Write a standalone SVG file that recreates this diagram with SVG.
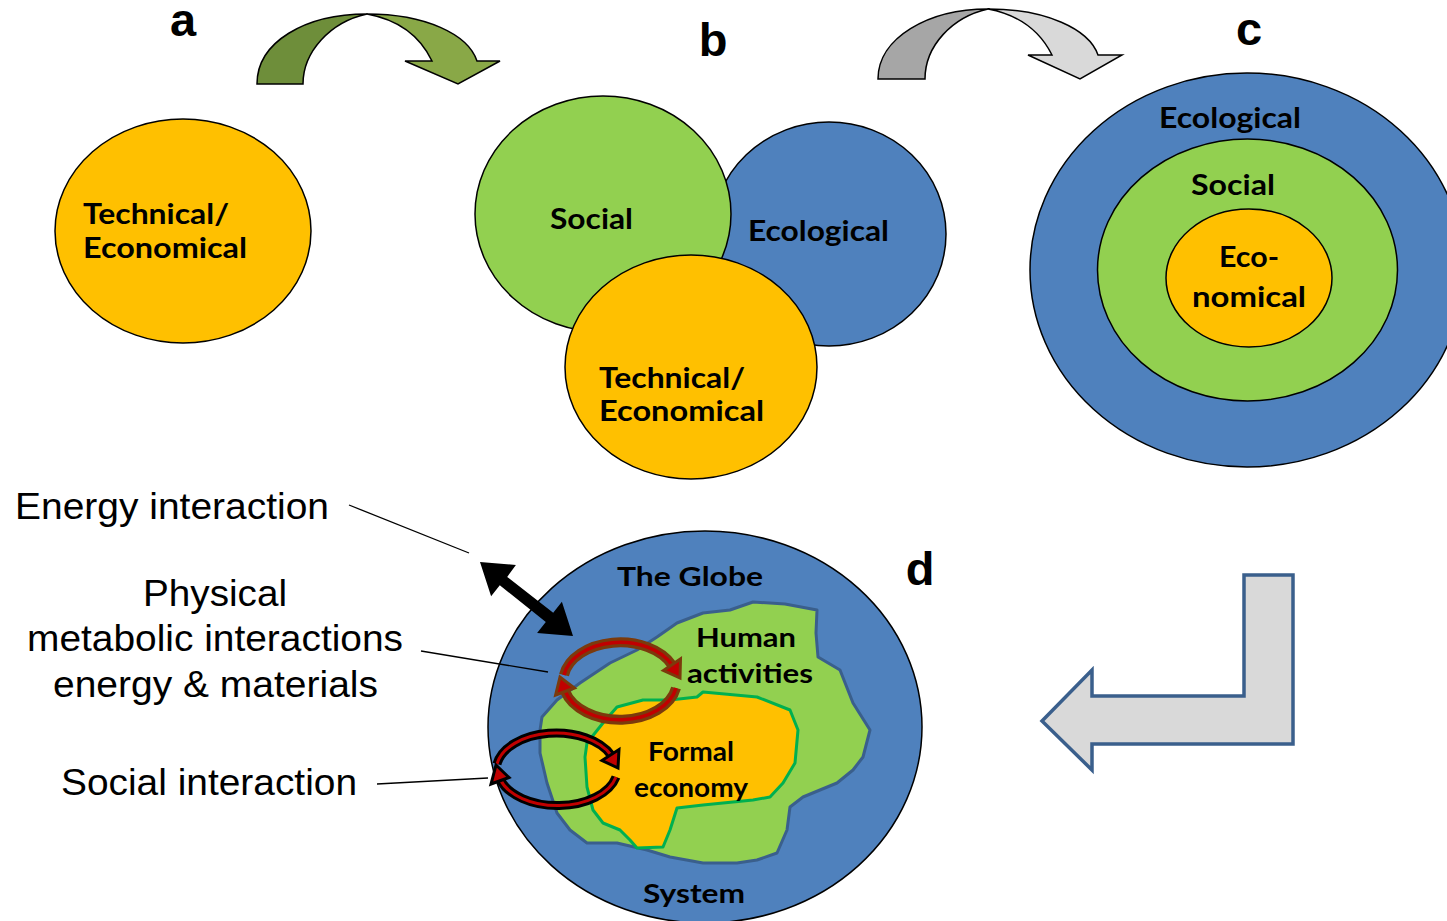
<svg xmlns="http://www.w3.org/2000/svg" width="1447" height="921" viewBox="0 0 1447 921">
<style>
.lbl{font-family:"Liberation Sans",Arial,sans-serif;font-weight:bold;font-size:47px;fill:#000}
.b{font-family:Lato,"Open Sans",sans-serif;font-weight:bold;font-size:29px;fill:#000}
.bd{font-family:Lato,"Open Sans",sans-serif;font-weight:bold;font-size:27px;fill:#000}
.side{font-family:"Liberation Sans",Arial,sans-serif;font-size:37px;fill:#000}
.ell{stroke:#000;stroke-width:1.5}
.lead{stroke:#000;stroke-width:1.3;fill:none}
</style>
<rect width="1447" height="921" fill="#fff"/>

<!-- panel labels -->
<text class="lbl" x="183" y="36" text-anchor="middle">a</text>
<text class="lbl" x="713" y="56" text-anchor="middle">b</text>
<text class="lbl" x="1249" y="45" text-anchor="middle">c</text>
<text class="lbl" x="920" y="585" text-anchor="middle">d</text>

<!-- transition arrows -->
<g id="arrow-ab" stroke="#000" stroke-width="1.5" stroke-linejoin="miter">
<path d="M257,84 C257,42 305,14 367,14 C330,22 303,52 303,84 Z" fill="#6E8E3A"/>
<path d="M367,14 C425,14 468,34 477,61 L500,61 L458,84 L405,61 L432,61 C420,36 400,20 367,14 Z" fill="#89A847"/>
</g>
<g id="arrow-bc" stroke="#000" stroke-width="1.5">
<path d="M878,79 C878,38 928,9 988,9 C952,17 925,46 925,79 Z" fill="#A6A6A6"/>
<path d="M988,9 C1046,9 1089,29 1098,55 L1122,55 L1080,79 L1028,55 L1052,55 C1040,31 1020,15 988,9 Z" fill="#D9D9D9"/>
</g>
<g id="arrow-cd">
<path d="M1244,575 L1293,575 L1293,744 L1092,744 L1092,770 L1042,721 L1092,670 L1092,696 L1244,696 Z" fill="#D9D9D9" stroke="#3A5F8C" stroke-width="3.5"/>
</g>

<!-- panel a -->
<g id="a-techeco">
<ellipse class="ell" cx="183" cy="231" rx="128" ry="112" fill="#FFC000"/>
<text class="b" x="83" y="224" textLength="146" lengthAdjust="spacingAndGlyphs">Technical/</text>
<text class="b" x="83" y="258" textLength="164" lengthAdjust="spacingAndGlyphs">Economical</text>
</g>

<!-- panel b -->
<g id="b-ecological">
<ellipse class="ell" cx="829" cy="234" rx="117" ry="112" fill="#4F81BD"/>
<text class="b" x="748" y="241" textLength="141" lengthAdjust="spacingAndGlyphs">Ecological</text>
</g>
<g id="b-social">
<ellipse class="ell" cx="603" cy="214" rx="128" ry="118" fill="#92D050"/>
<text class="b" x="550" y="229" textLength="83" lengthAdjust="spacingAndGlyphs">Social</text>
</g>
<g id="b-techeco">
<ellipse class="ell" cx="691" cy="367" rx="126" ry="112" fill="#FFC000"/>
<text class="b" x="599" y="388" textLength="146" lengthAdjust="spacingAndGlyphs">Technical/</text>
<text class="b" x="599" y="421" textLength="165" lengthAdjust="spacingAndGlyphs">Economical</text>
</g>

<!-- panel c -->
<g id="c-ecological">
<ellipse class="ell" cx="1247" cy="270" rx="217" ry="197" fill="#4F81BD"/>
<text class="b" x="1159" y="128" textLength="142" lengthAdjust="spacingAndGlyphs">Ecological</text>
</g>
<g id="c-social">
<ellipse class="ell" cx="1247.5" cy="270" rx="150" ry="131" fill="#92D050"/>
<text class="b" x="1191" y="195" textLength="84" lengthAdjust="spacingAndGlyphs">Social</text>
</g>
<g id="c-economical">
<ellipse class="ell" cx="1249" cy="278" rx="83" ry="69" fill="#FFC000"/>
<text class="b" x="1219" y="267" textLength="60" lengthAdjust="spacingAndGlyphs">Eco-</text>
<text class="b" x="1192" y="307" textLength="114" lengthAdjust="spacingAndGlyphs">nomical</text>
</g>

<!-- panel d -->
<g id="d-globe">
<ellipse class="ell" cx="705" cy="727" rx="217" ry="196" fill="#4F81BD"/>
<text class="bd" x="617" y="586" textLength="146" lengthAdjust="spacingAndGlyphs">The Globe</text>
<text class="bd" x="643" y="903" textLength="102" lengthAdjust="spacingAndGlyphs">System</text>
</g>
<g id="d-human">
<path d="M753,602 L785,604 L817,610 L816,633 L818,657 L840,670 L853,703 L870,730 L863,757 L853,770 L837,783 L803,797 L790,807 L787,830 L777,853 L757,860 L737,863 L703,863 L670,857 L647,850 L617,843 L587,843 L570,830 L557,813 L547,783 L540,753 L540,730 L542,717 L557,700 L580,683 L610,663 L637,650 L657,637 L677,623 L703,613 L730,610 Z" fill="#92D050" stroke="#3A5F8C" stroke-width="3" stroke-linejoin="round"/>
<text class="bd" x="696" y="647" textLength="100" lengthAdjust="spacingAndGlyphs">Human</text>
<text class="bd" x="687" y="683" textLength="126" lengthAdjust="spacingAndGlyphs">activities</text>
</g>
<g id="d-economy">
<path d="M703,692 L757,697 L790,710 L798,730 L795,763 L783,783 L770,797 L753,800 L703,805 L677,808 L670,830 L663,847 L637,848 L630,840 L620,830 L603,823 L593,810 L587,787 L585,757 L587,743 L603,723 L617,707 L643,700 L670,700 L697,697 Z" fill="#FFC000" stroke="#00B050" stroke-width="3" stroke-linejoin="round"/>
<text class="bd" x="648" y="761" font-size="25" textLength="86" lengthAdjust="spacingAndGlyphs">Formal</text>
<text class="bd" x="634" y="797" font-size="25" textLength="114" lengthAdjust="spacingAndGlyphs">economy</text>
</g>

<!-- interaction arrows -->
<g id="d-energy-arrow">
<polygon points="480,562 515.9,564.9 507.2,576.9 553.2,612.7 561.9,601.7 573,636 537.1,633.1 545.8,622.1 499.8,585.3 491.1,596.3" fill="#000"/>
</g>
<g id="d-metabolic-cycle">
<path d="M564,675 A57,39 0 0,1 672,665" fill="none" stroke="#7B3A0C" stroke-width="10"/>
<path d="M564,675 A57,39 0 0,1 672,665" fill="none" stroke="#C00000" stroke-width="3.5"/>
<polygon points="663.5,670.5 680.5,659 680,678" fill="#C00000" stroke="#7B3A0C" stroke-width="3"/>
<path d="M676,688 A57,39 0 0,1 565,691" fill="none" stroke="#7B3A0C" stroke-width="10"/>
<path d="M676,688 A57,39 0 0,1 565,691" fill="none" stroke="#C00000" stroke-width="3.5"/>
<polygon points="574.4,688 555.6,695 560,677" fill="#C00000" stroke="#7B3A0C" stroke-width="3"/>
</g>
<g id="d-social-cycle">
<path d="M497,764 A60,37 0 0,1 611,755" fill="none" stroke="#000" stroke-width="9"/>
<path d="M497,764 A60,37 0 0,1 611,755" fill="none" stroke="#C00000" stroke-width="3"/>
<polygon points="602,760.5 619,749.5 618,768" fill="#C00000" stroke="#000" stroke-width="3"/>
<path d="M616,777 A60,37 0 0,1 500,779" fill="none" stroke="#000" stroke-width="9"/>
<path d="M616,777 A60,37 0 0,1 500,779" fill="none" stroke="#C00000" stroke-width="3"/>
<polygon points="509,777.5 491,784 496,765" fill="#C00000" stroke="#000" stroke-width="3"/>
</g>

<!-- side labels -->
<g id="label-energy">
<text class="side" x="15" y="519" textLength="314" lengthAdjust="spacingAndGlyphs">Energy interaction</text>
</g>
<g id="label-physical">
<text class="side" x="143" y="606" textLength="144" lengthAdjust="spacingAndGlyphs">Physical</text>
<text class="side" x="27" y="651" textLength="376" lengthAdjust="spacingAndGlyphs">metabolic interactions</text>
<text class="side" x="53" y="697" textLength="325" lengthAdjust="spacingAndGlyphs">energy &amp; materials</text>
</g>
<g id="label-social">
<text class="side" x="61" y="795" textLength="296" lengthAdjust="spacingAndGlyphs">Social interaction</text>
</g>

<!-- connectors -->
<g id="connectors">
<line class="lead" x1="349" y1="505" x2="469" y2="553"/>
<line class="lead" x1="421" y1="651" x2="548" y2="672"/>
<line class="lead" x1="377" y1="784" x2="488" y2="778"/>
</g>
</svg>
